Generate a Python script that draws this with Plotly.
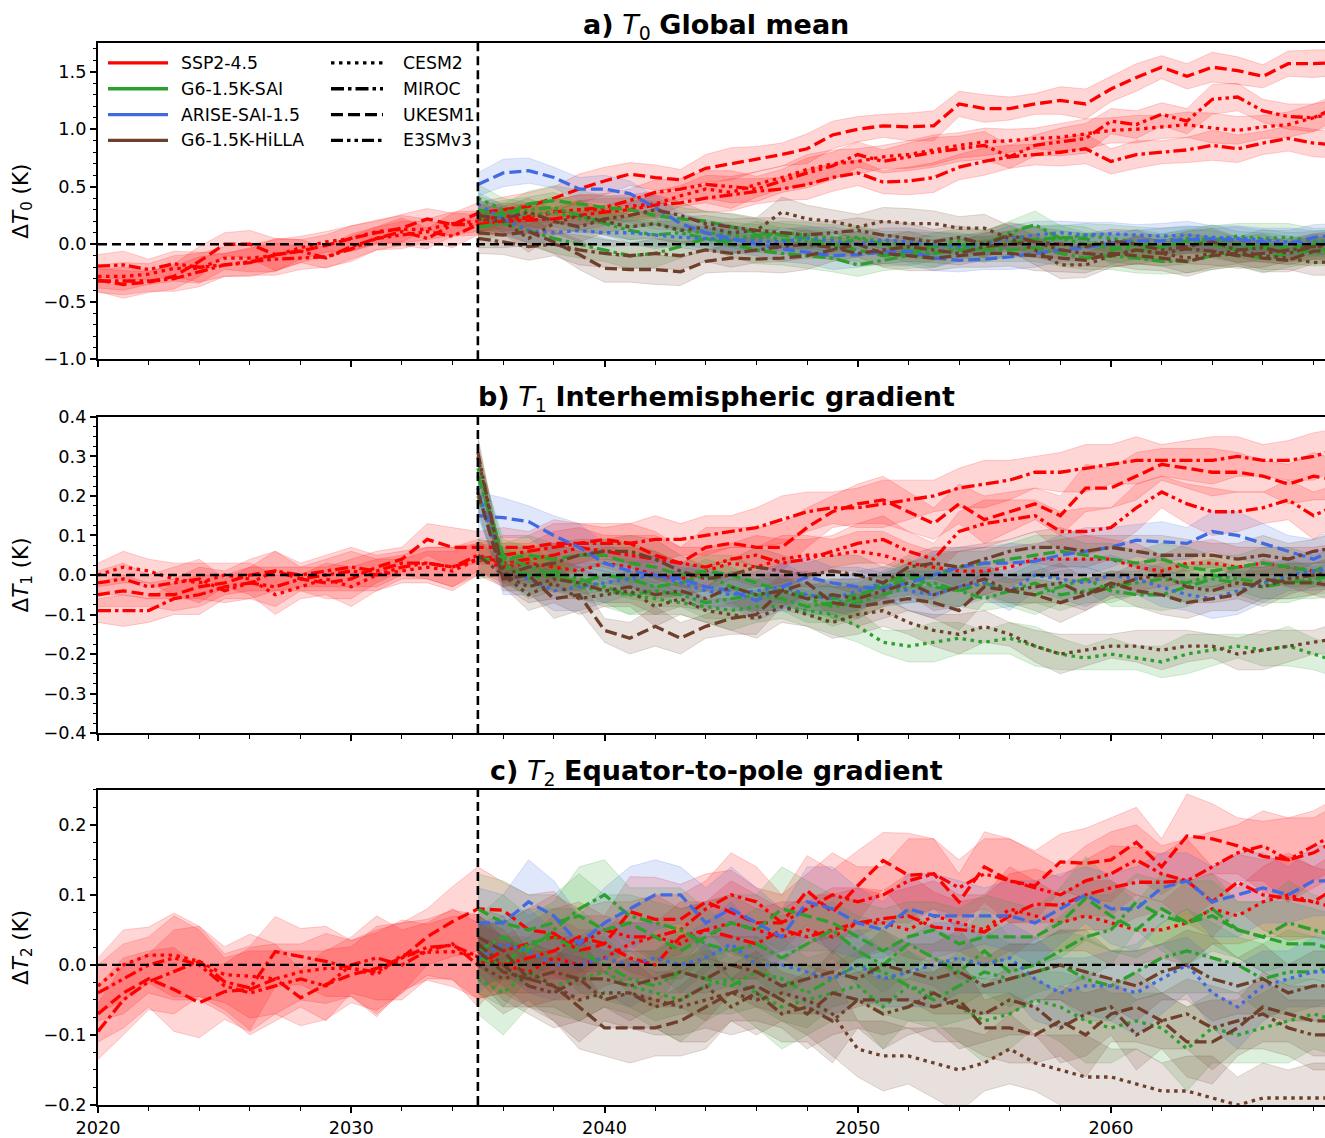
import plotly.graph_objects as go

# ---------------------------------------------------------------------------
# Time axes
# ---------------------------------------------------------------------------
YEARS_SSP = list(range(2020, 2070))   # SSP2-4.5 reference runs
YEARS_GEO = list(range(2035, 2070))   # geoengineering runs start in 2035

# ---------------------------------------------------------------------------
# a) Delta T0 - global mean (K)
# ---------------------------------------------------------------------------
ssp_cesm2_t0 = [-0.28, -0.28, -0.26, -0.21, -0.21, -0.12, -0.12, -0.10, -0.03, 0.02,
                0.05, 0.11, 0.13, 0.13, 0.18, 0.20, 0.25, 0.22, 0.28, 0.30,
                0.30, 0.33, 0.35, 0.42, 0.48, 0.45, 0.52, 0.58, 0.65, 0.70,
                0.72, 0.76, 0.78, 0.82, 0.86, 0.89, 0.90, 0.92, 0.93, 0.96,
                0.99, 1.00, 1.02, 1.04, 1.01, 0.99, 1.02, 1.04, 1.10, 1.15]
ssp_miroc_t0 = [-0.32, -0.32, -0.32, -0.30, -0.24, -0.18, -0.16, -0.09, -0.06, -0.12,
                -0.02, 0.05, 0.11, 0.05, 0.17, 0.17, 0.20, 0.21, 0.22, 0.25,
                0.28, 0.30, 0.34, 0.36, 0.40, 0.43, 0.46, 0.48, 0.52, 0.58,
                0.62, 0.54, 0.55, 0.58, 0.67, 0.72, 0.76, 0.78, 0.80, 0.83,
                0.72, 0.78, 0.80, 0.82, 0.86, 0.83, 0.88, 0.92, 0.88, 0.86]
ssp_ukesm1_t0 = [-0.31, -0.35, -0.33, -0.28, -0.15, 0.00, 0.00, -0.09, -0.06, -0.01,
                 0.05, 0.10, 0.14, 0.22, 0.17, 0.27, 0.30, 0.33, 0.40, 0.48,
                 0.55, 0.61, 0.58, 0.56, 0.66, 0.70, 0.74, 0.78, 0.83, 0.95,
                 1.00, 1.03, 1.02, 1.03, 1.22, 1.18, 1.18, 1.22, 1.25, 1.22,
                 1.35, 1.45, 1.54, 1.46, 1.54, 1.51, 1.46, 1.57, 1.57, 1.58]
ssp_e3sm_t0 = [-0.19, -0.18, -0.22, -0.17, -0.20, -0.18, -0.15, -0.13, -0.12, -0.11,
               -0.04, 0.05, 0.08, 0.11, 0.07, 0.17, 0.20, 0.24, 0.28, 0.30,
               0.32, 0.38, 0.45, 0.48, 0.52, 0.50, 0.48, 0.55, 0.62, 0.68,
               0.78, 0.72, 0.76, 0.80, 0.83, 0.86, 0.76, 0.86, 0.89, 0.92,
               1.07, 1.04, 1.13, 1.07, 1.26, 1.28, 1.16, 1.11, 1.10, 1.20]

sai_cesm2_t0 = [0.40, 0.30, 0.25, 0.28, 0.22, 0.20, 0.15, 0.18, 0.12, 0.10,
                0.08, 0.05, 0.10, 0.08, 0.05, 0.06, 0.02, 0.00, -0.02, 0.03,
                0.01, 0.08, 0.03, 0.05, 0.08, 0.05, 0.02, 0.03, 0.05, 0.04,
                0.07, 0.05, 0.06, 0.03, 0.02]
sai_miroc_t0 = [0.15, 0.18, 0.12, 0.05, 0.00, -0.05, -0.10, -0.08, -0.02, 0.05,
                0.00, -0.05, -0.08, -0.10, -0.12, -0.18, -0.14, -0.10, -0.08, -0.05,
                -0.04, -0.05, -0.03, -0.08, -0.12, -0.10, -0.12, -0.15, -0.15, -0.10,
                -0.08, -0.12, -0.08, -0.05, -0.04]
sai_ukesm1_t0 = [0.30, 0.25, 0.35, 0.38, 0.35, 0.32, 0.30, 0.25, 0.22, 0.20,
                 0.15, 0.10, 0.08, 0.05, 0.00, -0.05, -0.10, -0.08, -0.02, 0.00,
                 -0.05, 0.02, 0.04, 0.06, 0.05, -0.05, 0.00, -0.02, 0.03, 0.00,
                 -0.05, 0.00, -0.02, 0.00, 0.01]
sai_e3sm_t0 = [0.22, 0.28, 0.30, 0.32, 0.25, 0.18, 0.12, 0.08, 0.10, 0.05,
               0.03, 0.08, 0.04, 0.02, -0.02, 0.05, 0.00, -0.05, -0.08, -0.03,
               0.00, 0.10, 0.17, 0.05, 0.00, -0.03, -0.05, -0.02, 0.02, 0.05,
               0.00, -0.03, -0.05, -0.08, -0.06]

arise_cesm2_t0 = [0.35, 0.22, 0.12, 0.10, 0.12, 0.10, 0.10, 0.08, 0.06, 0.05,
                  0.04, 0.03, 0.02, 0.05, 0.03, 0.00, 0.04, 0.02, 0.00, -0.02,
                  0.00, 0.05, 0.08, 0.10, 0.08, 0.09, 0.08, 0.07, 0.08, 0.06,
                  0.05, 0.04, 0.02, 0.01, 0.02]
arise_ukesm1_t0 = [0.52, 0.62, 0.64, 0.58, 0.48, 0.48, 0.44, 0.32, 0.18, 0.10,
                   0.05, 0.00, -0.04, -0.07, -0.10, -0.09, -0.07, -0.06, -0.12, -0.14,
                   -0.13, -0.11, -0.08, -0.05, -0.03, 0.01, 0.03, 0.03, 0.04, 0.04,
                   0.04, 0.02, 0.00, 0.06, 0.08]

hilla_cesm2_t0 = [0.22, 0.20, 0.05, 0.18, 0.25, 0.20, 0.15, 0.18, 0.12, 0.15,
                  0.10, 0.12, 0.28, 0.22, 0.20, 0.15, 0.20, 0.18, 0.18, 0.14,
                  0.14, 0.05, -0.05, -0.18, -0.18, -0.10, -0.05, -0.08, -0.12, -0.08,
                  -0.06, -0.10, -0.12, -0.16, -0.15]
hilla_miroc_t0 = [0.05, 0.02, -0.02, 0.00, -0.05, -0.08, -0.10, -0.08, -0.10, -0.05,
                  -0.08, -0.05, -0.02, 0.00, -0.03, -0.08, -0.05, -0.02, -0.05, -0.08,
                  -0.02, 0.00, 0.02, -0.05, -0.08, -0.10, -0.05, -0.08, -0.04, -0.06,
                  -0.10, -0.08, -0.05, -0.02, -0.03]
hilla_ukesm1_t0 = [0.10, 0.08, 0.11, 0.02, -0.09, -0.21, -0.22, -0.22, -0.24, -0.15,
                   -0.12, -0.13, -0.12, -0.10, -0.05, 0.00, -0.08, -0.10, -0.12, -0.10,
                   -0.08, -0.08, -0.10, -0.12, -0.14, -0.08, -0.10, -0.12, -0.15, -0.10,
                   -0.08, -0.12, -0.14, -0.06, -0.05]
hilla_e3sm_t0 = [0.25, 0.22, 0.28, 0.20, 0.15, 0.22, 0.25, 0.30, 0.25, 0.18,
                 0.15, 0.12, 0.10, 0.08, 0.10, 0.12, 0.08, 0.05, 0.02, 0.06,
                 0.00, 0.08, 0.02, 0.00, -0.02, 0.03, 0.00, -0.05, -0.02, 0.02,
                 -0.05, -0.03, -0.08, -0.02, 0.00]

# ensemble spread (half width of the shaded range)
spread_ssp_t0 = [0.10, 0.12, 0.09, 0.11, 0.13, 0.10, 0.12, 0.14, 0.10, 0.09,
                 0.11, 0.10, 0.12, 0.09, 0.10, 0.09, 0.11, 0.12, 0.10, 0.13,
                 0.12, 0.10, 0.11, 0.09, 0.12, 0.14, 0.11, 0.10, 0.13, 0.12,
                 0.11, 0.10, 0.12, 0.13, 0.11, 0.12, 0.10, 0.09, 0.12, 0.13,
                 0.11, 0.12, 0.10, 0.11, 0.13, 0.12, 0.10, 0.11, 0.12, 0.11]
spread_sai_t0 = [0.12, 0.10, 0.11, 0.13, 0.12, 0.10, 0.11, 0.12, 0.10, 0.09,
                 0.11, 0.12, 0.10, 0.11, 0.12, 0.10, 0.09, 0.11, 0.12, 0.10,
                 0.11, 0.10, 0.12, 0.11, 0.10, 0.12, 0.13, 0.11, 0.10, 0.12,
                 0.11, 0.13, 0.12, 0.11, 0.12]
spread_arise_t0 = [0.10, 0.12, 0.11, 0.09, 0.10, 0.12, 0.11, 0.10, 0.09, 0.11,
                   0.12, 0.10, 0.11, 0.10, 0.12, 0.11, 0.10, 0.12, 0.11, 0.10,
                   0.09, 0.11, 0.12, 0.10, 0.11, 0.10, 0.09, 0.11, 0.12, 0.10,
                   0.11, 0.10, 0.12, 0.11, 0.10]
spread_hilla_t0 = [0.13, 0.11, 0.12, 0.10, 0.13, 0.12, 0.11, 0.13, 0.12, 0.10,
                   0.12, 0.11, 0.13, 0.12, 0.10, 0.11, 0.12, 0.13, 0.11, 0.10,
                   0.12, 0.11, 0.13, 0.12, 0.11, 0.10, 0.12, 0.11, 0.13, 0.12,
                   0.11, 0.12, 0.10, 0.11, 0.12]

# ---------------------------------------------------------------------------
# b) Delta T1 - interhemispheric gradient (K)
# ---------------------------------------------------------------------------
ssp_cesm2_t1 = [0.00, 0.02, 0.01, -0.01, -0.02, 0.00, -0.01, -0.05, -0.03, -0.01,
                -0.03, 0.00, 0.01, 0.02, 0.01, 0.04, 0.02, 0.03, 0.02, 0.01,
                0.03, 0.02, 0.00, -0.01, 0.01, 0.03, 0.02, 0.04, 0.05, 0.05,
                0.06, 0.05, 0.03, 0.02, 0.01, 0.01, 0.02, 0.04, 0.04, 0.04,
                0.04, 0.02, 0.01, 0.03, 0.03, 0.02, 0.03, 0.02, 0.01, 0.03]
ssp_miroc_t1 = [-0.09, -0.09, -0.09, -0.06, -0.05, -0.03, -0.02, 0.01, 0.00, 0.01,
                0.02, 0.01, 0.03, 0.03, 0.02, 0.04, 0.05, 0.06, 0.07, 0.08,
                0.08, 0.08, 0.09, 0.09, 0.10, 0.11, 0.12, 0.14, 0.16, 0.17,
                0.17, 0.18, 0.19, 0.20, 0.22, 0.23, 0.24, 0.26, 0.26, 0.27,
                0.28, 0.29, 0.29, 0.29, 0.29, 0.30, 0.29, 0.29, 0.30, 0.32]
ssp_ukesm1_t1 = [-0.05, -0.04, -0.05, -0.05, -0.03, -0.02, 0.00, 0.01, -0.01, -0.02,
                 -0.01, 0.02, 0.04, 0.09, 0.07, 0.07, 0.07, 0.07, 0.08, 0.08,
                 0.09, 0.08, 0.05, 0.03, 0.07, 0.08, 0.07, 0.07, 0.12, 0.16,
                 0.18, 0.19, 0.16, 0.13, 0.18, 0.14, 0.16, 0.18, 0.15, 0.22,
                 0.22, 0.25, 0.28, 0.27, 0.26, 0.26, 0.25, 0.23, 0.25, 0.24]
ssp_e3sm_t1 = [-0.02, -0.01, -0.03, -0.02, -0.01, -0.04, -0.02, -0.03, -0.01, 0.00,
               0.01, 0.00, 0.02, 0.03, 0.02, 0.05, 0.03, 0.04, 0.05, 0.07,
               0.06, 0.05, 0.04, 0.03, 0.02, 0.04, 0.05, 0.03, 0.04, 0.06,
               0.08, 0.09, 0.06, 0.04, 0.11, 0.13, 0.14, 0.15, 0.11, 0.11,
               0.12, 0.17, 0.21, 0.18, 0.16, 0.16, 0.17, 0.19, 0.15, 0.18]

sai_cesm2_t1 = [0.27, 0.03, -0.01, 0.00, -0.03, -0.04, -0.05, -0.06, -0.07, -0.08,
                -0.09, -0.08, -0.08, -0.09, -0.10, -0.13, -0.17, -0.18, -0.17, -0.16,
                -0.17, -0.16, -0.18, -0.20, -0.21, -0.20, -0.21, -0.22, -0.20, -0.19,
                -0.18, -0.19, -0.18, -0.20, -0.22]
sai_miroc_t1 = [0.25, 0.05, 0.02, 0.00, -0.02, 0.00, -0.01, -0.03, -0.02, 0.00,
                -0.03, -0.05, -0.06, -0.08, -0.07, -0.06, -0.02, 0.00, -0.03, -0.04,
                -0.02, -0.04, -0.05, -0.03, -0.01, -0.04, -0.05, -0.05, -0.03, -0.01,
                -0.02, -0.03, -0.02, -0.01, 0.00]
sai_ukesm1_t1 = [0.04, 0.04, 0.05, 0.04, 0.05, 0.05, 0.03, 0.02, 0.00, 0.01,
                 0.00, -0.02, -0.04, -0.05, -0.06, -0.05, -0.03, -0.01, 0.00, 0.02,
                 0.03, 0.04, 0.05, 0.06, 0.05, 0.04, 0.03, 0.04, 0.02, 0.01,
                 0.02, 0.03, 0.02, 0.01, 0.03]
sai_e3sm_t1 = [0.20, 0.02, 0.00, 0.01, -0.01, -0.03, -0.05, -0.04, -0.05, -0.07,
               -0.06, -0.05, -0.04, -0.06, -0.08, -0.07, -0.05, -0.03, -0.02, -0.04,
               -0.06, -0.04, -0.02, -0.05, -0.04, -0.03, -0.02, -0.01, -0.02, 0.00,
               -0.01, -0.02, -0.01, -0.02, -0.01]

arise_cesm2_t1 = [0.22, 0.00, -0.01, -0.04, -0.03, -0.02, -0.01, 0.00, -0.02, -0.04,
                  -0.05, -0.04, -0.03, -0.05, -0.06, -0.04, -0.02, -0.04, -0.05, -0.03,
                  -0.02, -0.04, 0.00, -0.01, -0.02, 0.00, -0.01, -0.03, -0.05, -0.06,
                  -0.04, -0.02, 0.00, 0.01, 0.02]
arise_ukesm1_t1 = [0.15, 0.145, 0.135, 0.10, 0.07, 0.03, 0.01, 0.00, -0.01, -0.03,
                   -0.04, -0.065, -0.03, -0.005, -0.02, -0.03, -0.035, -0.02, 0.00, 0.02,
                   0.03, 0.03, 0.035, 0.05, 0.06, 0.07, 0.088, 0.085, 0.08, 0.11,
                   0.10, 0.08, 0.06, 0.04, 0.07]

hilla_cesm2_t1 = [0.30, 0.00, -0.05, -0.02, -0.06, -0.05, -0.04, -0.08, -0.06, -0.09,
                  -0.10, -0.11, -0.08, -0.10, -0.12, -0.10, -0.09, -0.12, -0.14, -0.15,
                  -0.13, -0.15, -0.18, -0.20, -0.19, -0.18, -0.18, -0.19, -0.18, -0.18,
                  -0.20, -0.19, -0.18, -0.17, -0.16]
hilla_miroc_t1 = [0.05, 0.00, 0.02, 0.03, 0.05, 0.06, 0.06, 0.04, 0.01, -0.01,
                  0.00, 0.02, 0.01, 0.00, 0.01, 0.00, -0.02, 0.02, 0.03, 0.02,
                  0.04, 0.06, 0.07, 0.07, 0.06, 0.07, 0.06, 0.05, 0.05, 0.05,
                  0.04, 0.05, 0.04, 0.06, 0.07]
hilla_ukesm1_t1 = [0.21, -0.01, 0.00, -0.06, -0.05, -0.14, -0.16, -0.13, -0.16, -0.13,
                   -0.11, -0.10, -0.04, -0.02, -0.07, -0.08, -0.07, -0.06, -0.07, -0.09,
                   -0.03, -0.04, -0.05, -0.07, -0.05, -0.02, -0.04, -0.05, -0.07, -0.06,
                   -0.05, -0.01, -0.02, -0.02, -0.03]
hilla_e3sm_t1 = [0.31, 0.00, -0.03, -0.01, -0.02, -0.04, -0.03, -0.05, -0.04, -0.06,
                 -0.03, -0.05, -0.04, -0.06, -0.05, -0.06, -0.04, -0.02, -0.05, -0.03,
                 -0.01, -0.04, -0.03, -0.02, -0.05, -0.03, -0.01, 0.00, -0.03, -0.04,
                 -0.02, -0.03, -0.01, 0.00, 0.01]

spread_ssp_t1 = [0.03, 0.04, 0.03, 0.04, 0.05, 0.03, 0.04, 0.05, 0.03, 0.04,
                 0.05, 0.04, 0.03, 0.04, 0.05, 0.04, 0.05, 0.04, 0.06, 0.05,
                 0.04, 0.05, 0.06, 0.04, 0.05, 0.04, 0.05, 0.06, 0.05, 0.04,
                 0.05, 0.06, 0.05, 0.04, 0.05, 0.06, 0.05, 0.04, 0.05, 0.06,
                 0.05, 0.06, 0.04, 0.05, 0.06, 0.05, 0.04, 0.05, 0.06, 0.05]
spread_sai_t1 = [0.05, 0.04, 0.05, 0.04, 0.03, 0.04, 0.05, 0.04, 0.03, 0.04,
                 0.05, 0.04, 0.03, 0.04, 0.05, 0.04, 0.03, 0.04, 0.05, 0.04,
                 0.03, 0.04, 0.05, 0.04, 0.03, 0.04, 0.03, 0.04, 0.05, 0.04,
                 0.03, 0.04, 0.05, 0.04, 0.04]
spread_arise_t1 = [0.06, 0.05, 0.04, 0.05, 0.06, 0.05, 0.04, 0.05, 0.04, 0.05,
                   0.04, 0.05, 0.06, 0.05, 0.04, 0.05, 0.04, 0.05, 0.06, 0.05,
                   0.04, 0.05, 0.04, 0.05, 0.06, 0.05, 0.04, 0.05, 0.04, 0.05,
                   0.06, 0.05, 0.04, 0.05, 0.05]
spread_hilla_t1 = [0.04, 0.03, 0.04, 0.05, 0.04, 0.03, 0.04, 0.05, 0.04, 0.03,
                   0.04, 0.05, 0.04, 0.03, 0.04, 0.05, 0.04, 0.03, 0.04, 0.05,
                   0.04, 0.03, 0.04, 0.05, 0.04, 0.03, 0.04, 0.05, 0.04, 0.03,
                   0.04, 0.05, 0.04, 0.03, 0.04]

# ---------------------------------------------------------------------------
# c) Delta T2 - equator-to-pole gradient (K)
# ---------------------------------------------------------------------------
ssp_cesm2_t2 = [-0.03, 0.00, 0.014, 0.014, 0.005, -0.014, -0.016, -0.02, -0.01, -0.005,
                -0.005, -0.014, 0.014, 0.018, 0.019, 0.012, 0.00, -0.01, 0.01, 0.00,
                0.01, 0.03, 0.04, 0.03, 0.05, 0.06, 0.05, 0.04, 0.05, 0.04,
                0.06, 0.06, 0.05, 0.07, 0.06, 0.05, 0.08, 0.07, 0.06, 0.07,
                0.06, 0.05, 0.05, 0.06, 0.08, 0.07, 0.09, 0.10, 0.09, 0.08]
ssp_miroc_t2 = [-0.095, -0.05, -0.024, -0.01, 0.005, -0.024, -0.033, 0.019, 0.012, 0.005,
                -0.005, -0.01, 0.01, 0.025, 0.028, 0.012, 0.00, 0.01, 0.02, 0.04,
                0.03, 0.01, 0.00, 0.04, 0.05, 0.04, 0.03, 0.05, 0.04, 0.05,
                0.06, 0.066, 0.07, 0.054, 0.05, 0.047, 0.07, 0.087, 0.085, 0.10,
                0.11, 0.118, 0.118, 0.12, 0.09, 0.118, 0.10, 0.095, 0.09, 0.113]
ssp_ukesm1_t2 = [-0.07, -0.04, -0.02, -0.035, -0.054, -0.038, -0.035, -0.02, -0.047, -0.028,
                 -0.014, -0.005, 0.01, 0.04, 0.062, 0.08, 0.078, 0.05, 0.045, 0.02,
                 0.03, 0.076, 0.065, 0.065, 0.09, 0.075, 0.06, 0.06, 0.106, 0.075,
                 0.113, 0.149, 0.128, 0.13, 0.09, 0.14, 0.12, 0.113, 0.147, 0.145,
                 0.15, 0.175, 0.14, 0.184, 0.18, 0.17, 0.155, 0.15, 0.16, 0.18]
ssp_e3sm_t2 = [-0.04, -0.02, 0.00, 0.01, 0.00, -0.03, -0.04, -0.03, -0.02, -0.03,
               0.00, 0.01, 0.00, 0.02, 0.03, 0.00, 0.02, 0.03, 0.04, 0.03,
               0.05, 0.04, 0.04, 0.05, 0.08, 0.10, 0.09, 0.06, 0.08, 0.10,
               0.09, 0.10, 0.12, 0.13, 0.11, 0.13, 0.12, 0.11, 0.10, 0.12,
               0.13, 0.15, 0.13, 0.12, 0.14, 0.16, 0.17, 0.15, 0.17, 0.19]

sai_cesm2_t2 = [-0.02, -0.04, -0.01, -0.03, -0.02, -0.01, -0.03, -0.04, -0.05, -0.03,
                -0.02, -0.04, -0.06, -0.05, -0.04, -0.03, -0.06, -0.03, -0.04, -0.06,
                -0.08, -0.07, -0.05, -0.06, -0.08, -0.09, -0.08, -0.09, -0.12, -0.09,
                -0.10, -0.09, -0.08, -0.07, -0.08]
sai_miroc_t2 = [0.02, 0.04, 0.02, 0.05, 0.08, 0.10, 0.07, 0.06, 0.05, 0.03,
                0.02, 0.03, 0.01, 0.03, 0.05, 0.02, 0.00, 0.03, 0.01, -0.01,
                0.02, -0.01, 0.00, 0.02, 0.04, 0.05, 0.09, 0.07, 0.06, 0.08,
                0.05, 0.04, 0.06, 0.05, 0.04]
sai_ukesm1_t2 = [0.08, 0.06, 0.05, 0.06, 0.07, 0.05, 0.06, 0.04, 0.02, 0.04,
                 0.06, 0.05, 0.08, 0.07, 0.06, 0.04, 0.02, 0.04, 0.05, 0.03,
                 0.04, 0.04, 0.04, 0.06, 0.095, 0.07, 0.05, 0.08, 0.06, 0.07,
                 0.05, 0.04, 0.03, 0.03, 0.02]
sai_e3sm_t2 = [0.01, 0.00, 0.03, 0.04, 0.02, 0.00, -0.02, -0.03, -0.01, -0.02,
               -0.03, -0.01, -0.02, -0.04, -0.02, 0.00, -0.01, -0.03, -0.05, -0.03,
               -0.01, -0.02, -0.01, 0.00, -0.02, -0.03, -0.01, 0.01, 0.02, 0.01,
               0.00, -0.02, -0.01, -0.01, 0.00]

arise_cesm2_t2 = [0.01, 0.03, 0.02, 0.00, 0.00, 0.01, 0.00, 0.01, 0.00, 0.01,
                  0.03, 0.00, 0.00, -0.01, -0.02, 0.00, -0.02, -0.01, 0.00, 0.01,
                  0.00, 0.01, -0.02, -0.04, -0.03, -0.03, -0.04, -0.02, 0.00, -0.04,
                  -0.06, -0.03, -0.02, -0.01, -0.01]
arise_ukesm1_t2 = [0.06, 0.06, 0.09, 0.07, 0.03, 0.06, 0.08, 0.10, 0.10, 0.06,
                   0.08, 0.06, 0.04, 0.09, 0.08, 0.06, 0.05, 0.08, 0.07, 0.07,
                   0.07, 0.07, 0.06, 0.08, 0.10, 0.08, 0.08, 0.11, 0.12, 0.09,
                   0.10, 0.11, 0.10, 0.12, 0.12]

hilla_cesm2_t2 = [0.00, -0.02, -0.01, -0.03, -0.05, -0.04, -0.04, -0.05, -0.06, -0.05,
                  -0.04, -0.05, -0.04, -0.05, -0.07, -0.12, -0.13, -0.13, -0.14, -0.15,
                  -0.14, -0.12, -0.14, -0.15, -0.16, -0.16, -0.17, -0.18, -0.18, -0.19,
                  -0.20, -0.19, -0.19, -0.19, -0.19]
hilla_miroc_t2 = [0.02, -0.01, -0.02, -0.01, -0.02, -0.02, -0.03, -0.02, -0.01, -0.02,
                  0.00, -0.01, -0.03, -0.02, -0.01, -0.02, 0.00, -0.01, -0.02, -0.01,
                  -0.03, -0.02, -0.01, 0.00, -0.01, -0.02, -0.03, -0.01, 0.00, -0.02,
                  -0.03, -0.02, -0.04, -0.03, -0.03]
hilla_ukesm1_t2 = [0.04, 0.02, -0.02, -0.03, -0.06, -0.09, -0.09, -0.09, -0.08, -0.06,
                   -0.04, -0.03, -0.05, -0.07, -0.04, -0.05, -0.05, -0.05, -0.06, -0.05,
                   -0.09, -0.09, -0.10, -0.08, -0.10, -0.07, -0.06, -0.08, -0.11, -0.11,
                   -0.09, -0.06, -0.07, -0.08, -0.08]
hilla_e3sm_t2 = [0.03, 0.00, -0.03, -0.04, -0.02, -0.05, -0.04, -0.06, -0.05, -0.03,
                 -0.06, -0.04, -0.07, -0.06, -0.08, -0.05, -0.07, -0.06, -0.04, -0.06,
                 -0.07, -0.05, -0.06, -0.09, -0.07, -0.06, -0.10, -0.08, -0.07, -0.09,
                 -0.08, -0.07, -0.09, -0.10, -0.10]

spread_ssp_t2 = [0.04, 0.05, 0.04, 0.06, 0.05, 0.04, 0.06, 0.05, 0.04, 0.05,
                 0.04, 0.06, 0.05, 0.04, 0.05, 0.06, 0.04, 0.05, 0.06, 0.05,
                 0.04, 0.05, 0.06, 0.05, 0.04, 0.06, 0.05, 0.04, 0.05, 0.06,
                 0.05, 0.04, 0.06, 0.05, 0.04, 0.05, 0.06, 0.05, 0.04, 0.05,
                 0.06, 0.05, 0.04, 0.06, 0.05, 0.04, 0.05, 0.06, 0.05, 0.05]
spread_sai_t2 = [0.05, 0.06, 0.05, 0.04, 0.06, 0.05, 0.04, 0.05, 0.06, 0.05,
                 0.04, 0.05, 0.06, 0.05, 0.04, 0.05, 0.06, 0.05, 0.04, 0.05,
                 0.06, 0.05, 0.04, 0.05, 0.06, 0.05, 0.04, 0.05, 0.06, 0.05,
                 0.04, 0.05, 0.06, 0.05, 0.05]
spread_arise_t2 = [0.05, 0.04, 0.06, 0.05, 0.04, 0.05, 0.06, 0.05, 0.04, 0.05,
                   0.06, 0.05, 0.04, 0.05, 0.06, 0.05, 0.04, 0.05, 0.06, 0.05,
                   0.04, 0.05, 0.06, 0.05, 0.04, 0.05, 0.06, 0.05, 0.04, 0.05,
                   0.06, 0.05, 0.04, 0.05, 0.05]
spread_hilla_t2 = [0.04, 0.05, 0.04, 0.05, 0.06, 0.04, 0.05, 0.04, 0.05, 0.06,
                   0.04, 0.05, 0.04, 0.05, 0.06, 0.04, 0.05, 0.04, 0.05, 0.06,
                   0.04, 0.05, 0.04, 0.05, 0.06, 0.04, 0.05, 0.04, 0.05, 0.06,
                   0.04, 0.05, 0.04, 0.05, 0.05]

# ---------------------------------------------------------------------------
# Styling
# ---------------------------------------------------------------------------
SCENARIOS = ["SSP2-4.5", "G6-1.5K-SAI", "ARISE-SAI-1.5", "G6-1.5K-HiLLA"]
MODELS = ["CESM2", "MIROC", "UKESM1", "E3SMv3"]
SCEN_RGB = {
    "SSP2-4.5": (255, 0, 0),
    "G6-1.5K-SAI": (44, 160, 44),
    "ARISE-SAI-1.5": (65, 105, 225),
    "G6-1.5K-HiLLA": (110, 64, 44),
}
MODEL_DASH = {
    "CESM2": "3.5px,4.5px",
    "MIROC": "13px,4px,3.5px,4px",
    "UKESM1": "12px,5px",
    "E3SMv3": "12px,4px,3.5px,4px,3.5px,4px",
}
FONT = "DejaVu Sans"


def rgba(rgb, a):
    return "rgba(%d,%d,%d,%.3f)" % (rgb[0], rgb[1], rgb[2], a)


PANELS = [
    {
        "ax": ("x", "y"),
        "series": [
            ("SSP2-4.5", "CESM2", YEARS_SSP, ssp_cesm2_t0, spread_ssp_t0),
            ("SSP2-4.5", "MIROC", YEARS_SSP, ssp_miroc_t0, spread_ssp_t0),
            ("SSP2-4.5", "UKESM1", YEARS_SSP, ssp_ukesm1_t0, spread_ssp_t0),
            ("SSP2-4.5", "E3SMv3", YEARS_SSP, ssp_e3sm_t0, spread_ssp_t0),
            ("G6-1.5K-SAI", "CESM2", YEARS_GEO, sai_cesm2_t0, spread_sai_t0),
            ("G6-1.5K-SAI", "MIROC", YEARS_GEO, sai_miroc_t0, spread_sai_t0),
            ("G6-1.5K-SAI", "UKESM1", YEARS_GEO, sai_ukesm1_t0, spread_sai_t0),
            ("G6-1.5K-SAI", "E3SMv3", YEARS_GEO, sai_e3sm_t0, spread_sai_t0),
            ("ARISE-SAI-1.5", "CESM2", YEARS_GEO, arise_cesm2_t0, spread_arise_t0),
            ("ARISE-SAI-1.5", "UKESM1", YEARS_GEO, arise_ukesm1_t0, spread_arise_t0),
            ("G6-1.5K-HiLLA", "CESM2", YEARS_GEO, hilla_cesm2_t0, spread_hilla_t0),
            ("G6-1.5K-HiLLA", "MIROC", YEARS_GEO, hilla_miroc_t0, spread_hilla_t0),
            ("G6-1.5K-HiLLA", "UKESM1", YEARS_GEO, hilla_ukesm1_t0, spread_hilla_t0),
            ("G6-1.5K-HiLLA", "E3SMv3", YEARS_GEO, hilla_e3sm_t0, spread_hilla_t0),
        ],
    },
    {
        "ax": ("x2", "y2"),
        "series": [
            ("SSP2-4.5", "CESM2", YEARS_SSP, ssp_cesm2_t1, spread_ssp_t1),
            ("SSP2-4.5", "MIROC", YEARS_SSP, ssp_miroc_t1, spread_ssp_t1),
            ("SSP2-4.5", "UKESM1", YEARS_SSP, ssp_ukesm1_t1, spread_ssp_t1),
            ("SSP2-4.5", "E3SMv3", YEARS_SSP, ssp_e3sm_t1, spread_ssp_t1),
            ("G6-1.5K-SAI", "CESM2", YEARS_GEO, sai_cesm2_t1, spread_sai_t1),
            ("G6-1.5K-SAI", "MIROC", YEARS_GEO, sai_miroc_t1, spread_sai_t1),
            ("G6-1.5K-SAI", "UKESM1", YEARS_GEO, sai_ukesm1_t1, spread_sai_t1),
            ("G6-1.5K-SAI", "E3SMv3", YEARS_GEO, sai_e3sm_t1, spread_sai_t1),
            ("ARISE-SAI-1.5", "CESM2", YEARS_GEO, arise_cesm2_t1, spread_arise_t1),
            ("ARISE-SAI-1.5", "UKESM1", YEARS_GEO, arise_ukesm1_t1, spread_arise_t1),
            ("G6-1.5K-HiLLA", "CESM2", YEARS_GEO, hilla_cesm2_t1, spread_hilla_t1),
            ("G6-1.5K-HiLLA", "MIROC", YEARS_GEO, hilla_miroc_t1, spread_hilla_t1),
            ("G6-1.5K-HiLLA", "UKESM1", YEARS_GEO, hilla_ukesm1_t1, spread_hilla_t1),
            ("G6-1.5K-HiLLA", "E3SMv3", YEARS_GEO, hilla_e3sm_t1, spread_hilla_t1),
        ],
    },
    {
        "ax": ("x3", "y3"),
        "series": [
            ("SSP2-4.5", "CESM2", YEARS_SSP, ssp_cesm2_t2, spread_ssp_t2),
            ("SSP2-4.5", "MIROC", YEARS_SSP, ssp_miroc_t2, spread_ssp_t2),
            ("SSP2-4.5", "UKESM1", YEARS_SSP, ssp_ukesm1_t2, spread_ssp_t2),
            ("SSP2-4.5", "E3SMv3", YEARS_SSP, ssp_e3sm_t2, spread_ssp_t2),
            ("G6-1.5K-SAI", "CESM2", YEARS_GEO, sai_cesm2_t2, spread_sai_t2),
            ("G6-1.5K-SAI", "MIROC", YEARS_GEO, sai_miroc_t2, spread_sai_t2),
            ("G6-1.5K-SAI", "UKESM1", YEARS_GEO, sai_ukesm1_t2, spread_sai_t2),
            ("G6-1.5K-SAI", "E3SMv3", YEARS_GEO, sai_e3sm_t2, spread_sai_t2),
            ("ARISE-SAI-1.5", "CESM2", YEARS_GEO, arise_cesm2_t2, spread_arise_t2),
            ("ARISE-SAI-1.5", "UKESM1", YEARS_GEO, arise_ukesm1_t2, spread_arise_t2),
            ("G6-1.5K-HiLLA", "CESM2", YEARS_GEO, hilla_cesm2_t2, spread_hilla_t2),
            ("G6-1.5K-HiLLA", "MIROC", YEARS_GEO, hilla_miroc_t2, spread_hilla_t2),
            ("G6-1.5K-HiLLA", "UKESM1", YEARS_GEO, hilla_ukesm1_t2, spread_hilla_t2),
            ("G6-1.5K-HiLLA", "E3SMv3", YEARS_GEO, hilla_e3sm_t2, spread_hilla_t2),
        ],
    },
]

fig = go.Figure()

for panel in PANELS:
    xa, ya = panel["ax"]
    # shaded ensemble ranges underneath
    for scen, model, years, vals, spread in panel["series"]:
        if not (len(years) == len(vals) == len(spread)):
            raise ValueError("length mismatch for %s %s" % (scen, model))
        upper = [v + s for v, s in zip(vals, spread)]
        lower = [v - s for v, s in zip(vals, spread)]
        c = SCEN_RGB[scen]
        fig.add_trace(go.Scatter(
            x=years + years[::-1], y=upper + lower[::-1],
            fill="toself", fillcolor=rgba(c, 0.16),
            line=dict(color=rgba(c, 0.18), width=1),
            mode="lines", hoverinfo="skip", showlegend=False,
            xaxis=xa, yaxis=ya))
    # ensemble means
    for scen, model, years, vals, spread in panel["series"]:
        c = SCEN_RGB[scen]
        fig.add_trace(go.Scatter(
            x=years, y=vals, mode="lines",
            line=dict(color=rgba(c, 1), width=3.3, dash=MODEL_DASH[model]),
            name="%s %s" % (scen, model), showlegend=False,
            xaxis=xa, yaxis=ya))

# ---------------------------------------------------------------------------
# Axes
# ---------------------------------------------------------------------------
W, H = 1325, 1138
ML, MR, MT, MB = 98, 0, 43, 27
PW, PH = W - ML - MR, H - MT - MB


def py(pix):
    """pixel row -> paper y"""
    return (H - MB - pix) / PH


def px(pix):
    """pixel column -> paper x"""
    return (pix - ML) / PW


tickfont = dict(family=FONT, size=17.7, color="black")
xcommon = dict(
    range=[2020, 2068.45], tick0=2020, dtick=10, ticks="outside", ticklen=6,
    tickwidth=1.6, tickcolor="black", showline=True, linewidth=2, linecolor="black",
    mirror=True, showgrid=False, zeroline=False, tickfont=tickfont,
    minor=dict(tick0=2020, dtick=2, ticks="outside", ticklen=3.5, tickwidth=1.2,
               tickcolor="black", showgrid=False),
)
ycommon = dict(
    ticks="outside", ticklen=6, tickwidth=1.6, tickcolor="black", showline=True,
    linewidth=2, linecolor="black", mirror=False, showgrid=False, zeroline=False,
    tickfont=tickfont, tickformat=".1f",
)
title_font = dict(family=FONT, size=21.5, color="black")

domains = [
    [py(361), py(43)],
    [py(737), py(419)],
    [py(1111), py(794)],
]

layout_axes = {}
yspecs = [
    dict(range=[-1.0, 1.75], tick0=0, dtick=0.5, minor_dtick=0.1,
         title="Δ<i>T</i><sub>0</sub> (K)"),
    dict(range=[-0.4, 0.4], tick0=0, dtick=0.1, minor_dtick=0.025,
         title="Δ<i>T</i><sub>1</sub> (K)"),
    dict(range=[-0.2, 0.25], tick0=0, dtick=0.1, minor_dtick=0.025,
         title="Δ<i>T</i><sub>2</sub> (K)"),
]
for i, (dom, ys) in enumerate(zip(domains, yspecs)):
    n = "" if i == 0 else str(i + 1)
    xa = dict(xcommon)
    xa.update(domain=[0, 1], anchor="y" + n, showticklabels=(i == 2))
    ya = dict(ycommon)
    ya.update(domain=dom, anchor="x" + n, range=ys["range"], tick0=ys["tick0"],
              dtick=ys["dtick"],
              minor=dict(tick0=0, dtick=ys["minor_dtick"], ticks="outside", ticklen=3.5,
                         tickwidth=1.2, tickcolor="black", showgrid=False),
              title=dict(text=ys["title"], font=title_font, standoff=9))
    layout_axes["xaxis" + n] = xa
    layout_axes["yaxis" + n] = ya

# ---------------------------------------------------------------------------
# Reference lines (start of intervention, zero anomaly)
# ---------------------------------------------------------------------------
shapes = []
for i in range(3):
    n = "" if i == 0 else str(i + 1)
    shapes.append(dict(type="line", xref="x" + n, yref="y" + n + " domain",
                       x0=2035, x1=2035, y0=0, y1=1,
                       line=dict(color="black", width=2.6, dash="9px,5px"), layer="above"))
    shapes.append(dict(type="line", xref="x" + n + " domain", yref="y" + n,
                       x0=0, x1=1, y0=0, y1=0,
                       line=dict(color="black", width=2.4, dash="9px,5px"), layer="above"))

# ---------------------------------------------------------------------------
# Legend: scenario colours (left column) and model line styles (right column)
# ---------------------------------------------------------------------------
annotations = []
legend_font = dict(family=FONT, size=17.3, color="black")
row_y = [63, 89, 115, 141]
for yy, scen in zip(row_y, SCENARIOS):
    shapes.append(dict(type="line", xref="paper", yref="paper",
                       x0=px(108), x1=px(168), y0=py(yy), y1=py(yy),
                       line=dict(color=rgba(SCEN_RGB[scen], 1), width=3.3)))
    annotations.append(dict(xref="paper", yref="paper", x=px(179), y=py(yy),
                            xanchor="left", yanchor="middle", text=scen,
                            showarrow=False, font=legend_font))
for yy, model in zip(row_y, MODELS):
    shapes.append(dict(type="line", xref="paper", yref="paper",
                       x0=px(331), x1=px(383), y0=py(yy), y1=py(yy),
                       line=dict(color="black", width=3.3, dash=MODEL_DASH[model])))
    annotations.append(dict(xref="paper", yref="paper", x=px(401), y=py(yy),
                            xanchor="left", yanchor="middle", text=model,
                            showarrow=False, font=legend_font))

# ---------------------------------------------------------------------------
# Panel titles
# ---------------------------------------------------------------------------
panel_titles = [
    ("<b>a)</b> <i>T</i><sub>0</sub> <b>Global mean</b>", 26),
    ("<b>b)</b> <i>T</i><sub>1</sub> <b>Interhemispheric gradient</b>", 401),
    ("<b>c)</b> <i>T</i><sub>2</sub> <b>Equator-to-pole gradient</b>", 777),
]
for text, yy in panel_titles:
    annotations.append(dict(xref="paper", yref="paper", x=px(716), y=py(yy),
                            xanchor="center", yanchor="middle", text=text,
                            showarrow=False,
                            font=dict(family=FONT, size=27, color="black")))

fig.update_layout(
    width=W, height=H,
    margin=dict(l=ML, r=MR, t=MT, b=MB, pad=0),
    paper_bgcolor="white", plot_bgcolor="white",
    showlegend=False,
    shapes=shapes, annotations=annotations,
    font=dict(family=FONT, color="black"),
    **layout_axes,
)

fig.write_html("out.html")
